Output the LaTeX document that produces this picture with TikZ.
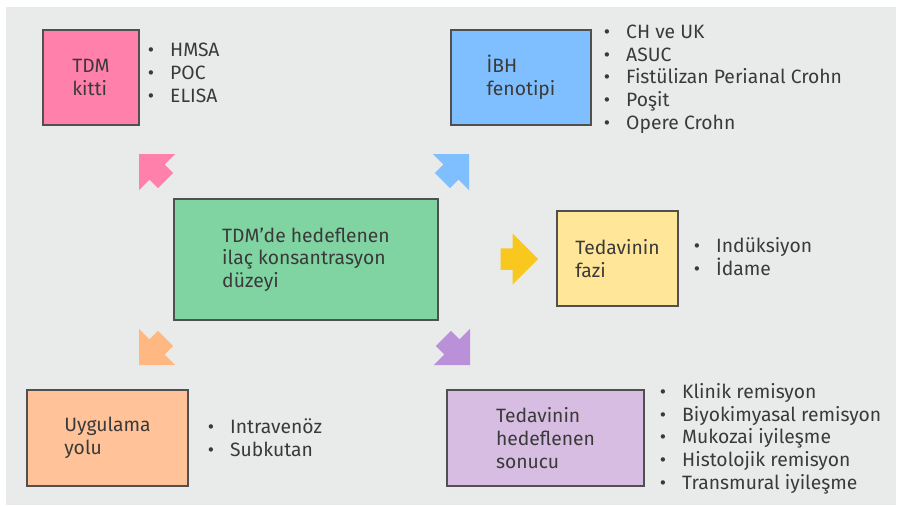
\documentclass[tikz,border=0pt]{standalone}
\usepackage{fontspec}
\setmainfont{Fira Sans}
\definecolor{bg}{HTML}{E9EAEA}
\definecolor{txt}{HTML}{3A3A3A}
\definecolor{edge}{HTML}{505050}
\definecolor{pk}{HTML}{FF80AB}
\definecolor{bl}{HTML}{80BFFF}
\definecolor{gr}{HTML}{80D4A2}
\definecolor{ye}{HTML}{FFE699}
\definecolor{yeA}{HTML}{F8C81E}
\definecolor{or}{HTML}{FFC299}
\definecolor{orA}{HTML}{FFB882}
\definecolor{pu}{HTML}{D8BDE2}
\definecolor{puA}{HTML}{BA90D8}
\newcommand{\itm}[1]{\llap{•\hspace{16pt}}#1}
\tikzset{
  blockarrow/.pic={\fill[#1] (0,0) -- (-25.5,25.5) -- (-25.5,10.75) -- (-37.5,10.75)
      -- (-37.5,-10.75) -- (-25.5,-10.75) -- (-25.5,-25.5) -- cycle;}
}
\begin{document}
\begin{tikzpicture}[x=1pt,y=-1pt,
  every node/.style={font=\fontsize{19.3pt}{22.7pt}\selectfont, text=txt},
  box/.style={draw=edge, line width=1.1pt, inner sep=0pt, align=left},
  list/.style={anchor=west, inner sep=0pt, align=left}]
\useasboundingbox (0,0) rectangle (900,506);
\fill[bg] (6,7) rectangle (896,505);
% boxes
\node[box, fill=pk, minimum width=96pt, minimum height=95pt] (kit) at (91,77.5) {TDM\\kitti};
\node[box, fill=bl, minimum width=140pt, minimum height=95pt] (ibh) at (521,77.5) {İBH\\fenotipi};
\node[box, fill=gr, minimum width=264pt, minimum height=121pt] (tdm) at (306,259.5) {TDM’de hedeflenen\\ilaç konsantrasyon\\düzeyi};
\node[box, fill=ye, minimum width=121pt, minimum height=95pt] (faz) at (617.5,258.5) {Tedavinin\\fazi};
\node[box, fill=or, minimum width=161pt, minimum height=96pt] (yol) at (107.5,438) {Uygulama\\yolu};
\node[box, fill=pu, minimum width=197pt, minimum height=96pt] (son) at (545.5,438) {Tedavinin\\hedeflenen\\sonucu};
% lists
\node[list] (kitl) at (170,73) {\itm{HMSA}\\\itm{POC}\\\itm{ELISA}};
\node[list] (ibhl) at (626,79) {\itm{CH ve UK}\\\itm{ASUC}\\\itm{Fistülizan Perianal Crohn}\\\itm{Poşit}\\\itm{Opere Crohn}};
\node[list] (fazl) at (716,256.5) {\itm{Indüksiyon}\\\itm{İdame}};
\node[list] (yoll) at (230,437.5) {\itm{Intravenöz}\\\itm{Subkutan}};
\node[list] (sonl) at (682,438.5) {\itm{Klinik remisyon}\\\itm{Biyokimyasal remisyon}\\\itm{Mukozai iyileşme}\\\itm{Histolojik remisyon}\\\itm{Transmural iyileşme}};
% block arrows
\pic[rotate=135] at (139,154) {blockarrow=pk};
\pic[rotate=45] at (469,154) {blockarrow=bl};
\pic[rotate=0] at (538,259) {blockarrow=yeA};
\pic[rotate=225] at (139,365) {blockarrow=orA};
\pic[rotate=315] at (470,365) {blockarrow=puA};
\end{tikzpicture}
\end{document}
